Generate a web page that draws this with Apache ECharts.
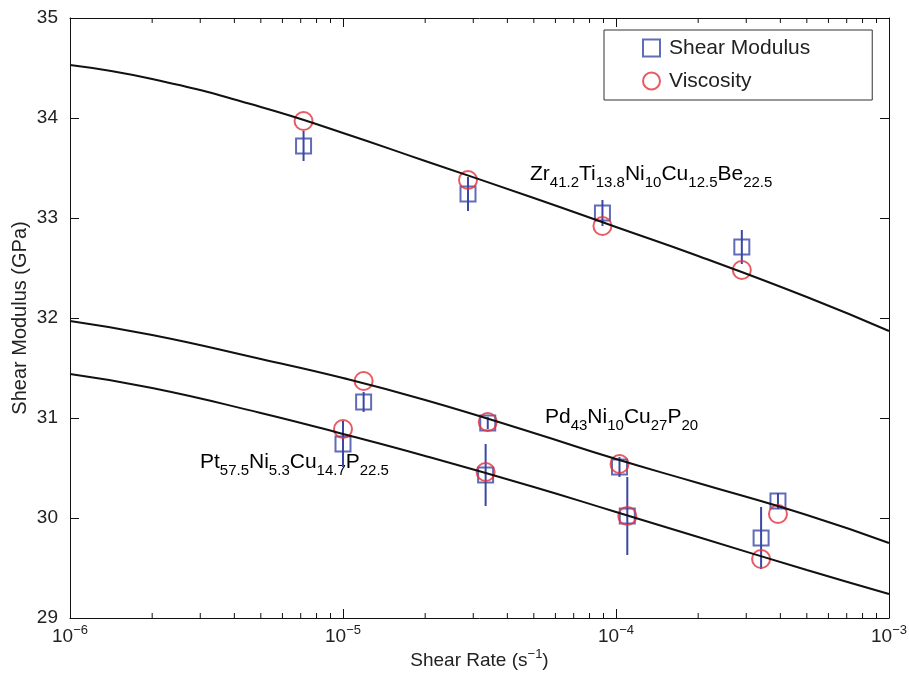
<!DOCTYPE html>
<html>
<head>
<meta charset="utf-8">
<title>Shear Modulus vs Shear Rate</title>
<script src="https://cdn.jsdelivr.net/npm/echarts@6.0.0/dist/echarts.min.js"></script>
<style>
html, body { margin: 0; padding: 0; background: #fff; }
#main { width: 909px; height: 673px; }
</style>
</head>
<body>
<div id="main"></div>
<script>
// measured points (shear rate, shear modulus with error, viscosity-derived modulus)
var rateZr = [7.17e-6, 2.87e-5, 8.92e-5, 2.89e-4];
var modulusZr = [33.72, 33.24, 33.05, 32.71];
var errZr = [0.15, 0.17, 0.13, 0.17];
var viscZr = [33.97, 33.38, 32.92, 32.48];

var ratePd = [1.19e-5, 3.39e-5, 1.03e-4, 3.92e-4];
var modulusPd = [31.16, 30.95, 30.51, 30.17];
var errPd = [0.10, 0.06, 0.10, 0.08];
var viscPd = [31.37, 30.96, 30.54, 30.04];

var ratePt = [1.0e-5, 3.33e-5, 1.10e-4, 3.40e-4];
var modulusPt = [30.74, 30.43, 30.02, 29.80];
var errPt = [0.23, 0.31, 0.39, 0.31];
var viscPt = [30.89, 30.46, 30.02, 29.59];

// fitted curves
var curveRate = [1e-6, 2e-6, 5e-6, 1e-5, 2e-5, 5e-5, 1e-4, 2e-4, 5e-4, 1e-3];
var curveZr = [34.53, 34.39, 34.11, 33.85, 33.57, 33.20, 32.91, 32.62, 32.21, 31.87];
var curvePd = [31.97, 31.83, 31.59, 31.40, 31.18, 30.85, 30.59, 30.35, 30.03, 29.75];
var curvePt = [31.44, 31.30, 31.05, 30.84, 30.62, 30.31, 30.06, 29.81, 29.48, 29.24];

// axis ticks
var xMajorTicks = [1e-6, 1e-5, 1e-4, 1e-3];
var xMinorTicks = [2e-6, 3e-6, 4e-6, 5e-6, 6e-6, 7e-6, 8e-6, 9e-6,
                   2e-5, 3e-5, 4e-5, 5e-5, 6e-5, 7e-5, 8e-5, 9e-5,
                   2e-4, 3e-4, 4e-4, 5e-4, 6e-4, 7e-4, 8e-4, 9e-4];
var yMin = 29, yMax = 35;

var blue = '#3a47a6';
var red = '#e3323c';
var font = 'Liberation Sans';

function pairs(xs, ys) {
	var out = [];
	for (var i = 0; i < xs.length; i++) out.push([xs[i], ys[i]]);
	return out;
}
function errRows(xs, ys, es) {
	var out = [];
	for (var i = 0; i < xs.length; i++) out.push([xs[i], ys[i] - es[i], ys[i] + es[i]]);
	return out;
}

var modulusData = pairs(rateZr, modulusZr).concat(pairs(ratePd, modulusPd), pairs(ratePt, modulusPt));
var viscData = pairs(rateZr, viscZr).concat(pairs(ratePd, viscPd), pairs(ratePt, viscPt));
var errData = errRows(rateZr, modulusZr, errZr).concat(errRows(ratePd, modulusPd, errPd), errRows(ratePt, modulusPt, errPt));

function curve(name, ys) {
	return {
		name: name,
		type: 'line',
		data: pairs(curveRate, ys),
		smooth: 0.5,
		showSymbol: false,
		lineStyle: { color: '#111', width: 2 },
		z: 5,
		silent: true
	};
}

var sub = { fontSize: 15, fontFamily: font, color: '#222', lineHeight: 14, verticalAlign: 'bottom' };
var main = { fontSize: 21, fontFamily: font, color: '#222', lineHeight: 32 };
function formula(parts) {
	// parts: [element, count, element, count ...]
	var s = '';
	for (var i = 0; i < parts.length; i += 2) {
		s += '{m|' + parts[i] + '}{s|' + parts[i + 1] + '}';
	}
	return s;
}

var myChart = echarts.init(document.getElementById('main'));
var option = {
	animation: false,
	backgroundColor: '#fff',
	grid: { left: 70, right: 20, top: 18, bottom: 55, containLabel: false, outerBoundsMode: 'none' },
	legend: {
		data: ['Shear Modulus', 'Viscosity'],
		orient: 'vertical',
		left: 604,
		top: 30,
		padding: [7, 62, 8, 38],
		itemGap: 11,
		itemWidth: 17,
		itemHeight: 17,
		borderColor: '#333',
		borderWidth: 1,
		borderRadius: 0,
		textStyle: { fontSize: 21, fontFamily: font, color: '#222', lineHeight: 22, padding: [0, 0, 0, 4] }
	},
	xAxis: [{
		type: 'log',
		logBase: 10,
		min: 1e-6,
		max: 1e-3,
		position: 'bottom',
		name: '{m|Shear Rate (s}{p|\u22121}{m|)}',
		nameLocation: 'middle',
		nameGap: 30,
		nameMoveOverlap: false,
		nameTextStyle: {
			rich: {
				m: { fontSize: 19, fontFamily: font, color: '#222', lineHeight: 26 },
				p: { fontSize: 13, fontFamily: font, color: '#222', lineHeight: 14, verticalAlign: 'top' }
			}
		},
		axisLine: { lineStyle: { color: '#111', width: 1 } },
		axisTick: { inside: true, length: 9, lineStyle: { color: '#111' }, customValues: xMajorTicks },
		splitLine: { show: false },
		axisLabel: {
			customValues: xMajorTicks,
			margin: 6,
			formatter: function (v) {
				return '{b|10}{p|\u2212' + Math.round(-Math.log10(v)) + '}';
			},
			rich: {
				b: { fontSize: 19, fontFamily: font, color: '#222', lineHeight: 26 },
				p: { fontSize: 13, fontFamily: font, color: '#222', lineHeight: 14, verticalAlign: 'top' }
			}
		}
	}, {
		type: 'log',
		logBase: 10,
		min: 1e-6,
		max: 1e-3,
		position: 'top',
		axisLine: { lineStyle: { color: '#111', width: 1 } },
		axisTick: { inside: true, length: 9, lineStyle: { color: '#111' }, customValues: xMajorTicks },
		axisLabel: { show: false },
		splitLine: { show: false }
	}],
	yAxis: [{
		type: 'value',
		min: yMin,
		max: yMax,
		interval: 1,
		position: 'left',
		name: 'Shear Modulus (GPa)',
		nameLocation: 'middle',
		nameGap: 40,
		nameMoveOverlap: false,
		nameTextStyle: { fontSize: 20, fontFamily: font, color: '#222' },
		axisLine: { show: true, lineStyle: { color: '#111', width: 1 } },
		axisTick: { show: true, inside: true, length: 9, lineStyle: { color: '#111' } },
		splitLine: { show: false },
		axisLabel: { fontSize: 19, fontFamily: font, color: '#222', margin: 12 }
	}, {
		type: 'value',
		min: yMin,
		max: yMax,
		interval: 1,
		position: 'right',
		axisLine: { show: true, lineStyle: { color: '#111', width: 1 } },
		axisTick: { show: true, inside: true, length: 9, lineStyle: { color: '#111' } },
		splitLine: { show: false },
		axisLabel: { show: false }
	}],
	graphic: [{
		type: 'text', x: 530, y: 174,
		style: { text: formula(['Zr', '41.2', 'Ti', '13.8', 'Ni', '10', 'Cu', '12.5', 'Be', '22.5']), rich: { m: main, s: sub }, verticalAlign: 'middle' }
	}, {
		type: 'text', x: 545, y: 417,
		style: { text: formula(['Pd', '43', 'Ni', '10', 'Cu', '27', 'P', '20']), rich: { m: main, s: sub }, verticalAlign: 'middle' }
	}, {
		type: 'text', x: 200, y: 462,
		style: { text: formula(['Pt', '57.5', 'Ni', '5.3', 'Cu', '14.7', 'P', '22.5']), rich: { m: main, s: sub }, verticalAlign: 'middle' }
	}],
	series: [
		// minor ticks on log axis, top and bottom
		{
			type: 'custom',
			silent: true,
			data: xMinorTicks.map(function (v) { return [v, yMin, yMax]; }),
			encode: { x: 0, y: [1, 2] },
			renderItem: function (params, api) {
				var b = api.coord([api.value(0), yMin]);
				var t = api.coord([api.value(0), yMax]);
				return {
					type: 'group',
					children: [
						{ type: 'line', shape: { x1: b[0], y1: b[1], x2: b[0], y2: b[1] - 5 }, style: { stroke: '#111', lineWidth: 1 } },
						{ type: 'line', shape: { x1: t[0], y1: t[1], x2: t[0], y2: t[1] + 5 }, style: { stroke: '#111', lineWidth: 1 } }
					]
				};
			}
		},
		// error bars
		{
			type: 'custom',
			silent: true,
			data: errData,
			encode: { x: 0, y: [1, 2] },
			renderItem: function (params, api) {
				var lo = api.coord([api.value(0), api.value(1)]);
				var hi = api.coord([api.value(0), api.value(2)]);
				return { type: 'line', shape: { x1: lo[0], y1: lo[1], x2: hi[0], y2: hi[1] }, style: { stroke: blue, lineWidth: 2 } };
			},
			z: 3
		},
		{
			name: 'Shear Modulus',
			type: 'scatter',
			symbol: 'rect',
			symbolSize: 15,
			data: modulusData,
			itemStyle: { color: 'rgba(255,255,255,0)', borderColor: blue, borderWidth: 2 },
			z: 4
		},
		{
			name: 'Viscosity',
			type: 'scatter',
			symbol: 'circle',
			symbolSize: 18,
			data: viscData,
			itemStyle: { color: 'rgba(255,255,255,0)', borderColor: red, borderWidth: 2 },
			z: 4
		},
		curve('Zr', curveZr),
		curve('Pd', curvePd),
		curve('Pt', curvePt)
	]
};
myChart.setOption(option);
</script>
</body>
</html>
